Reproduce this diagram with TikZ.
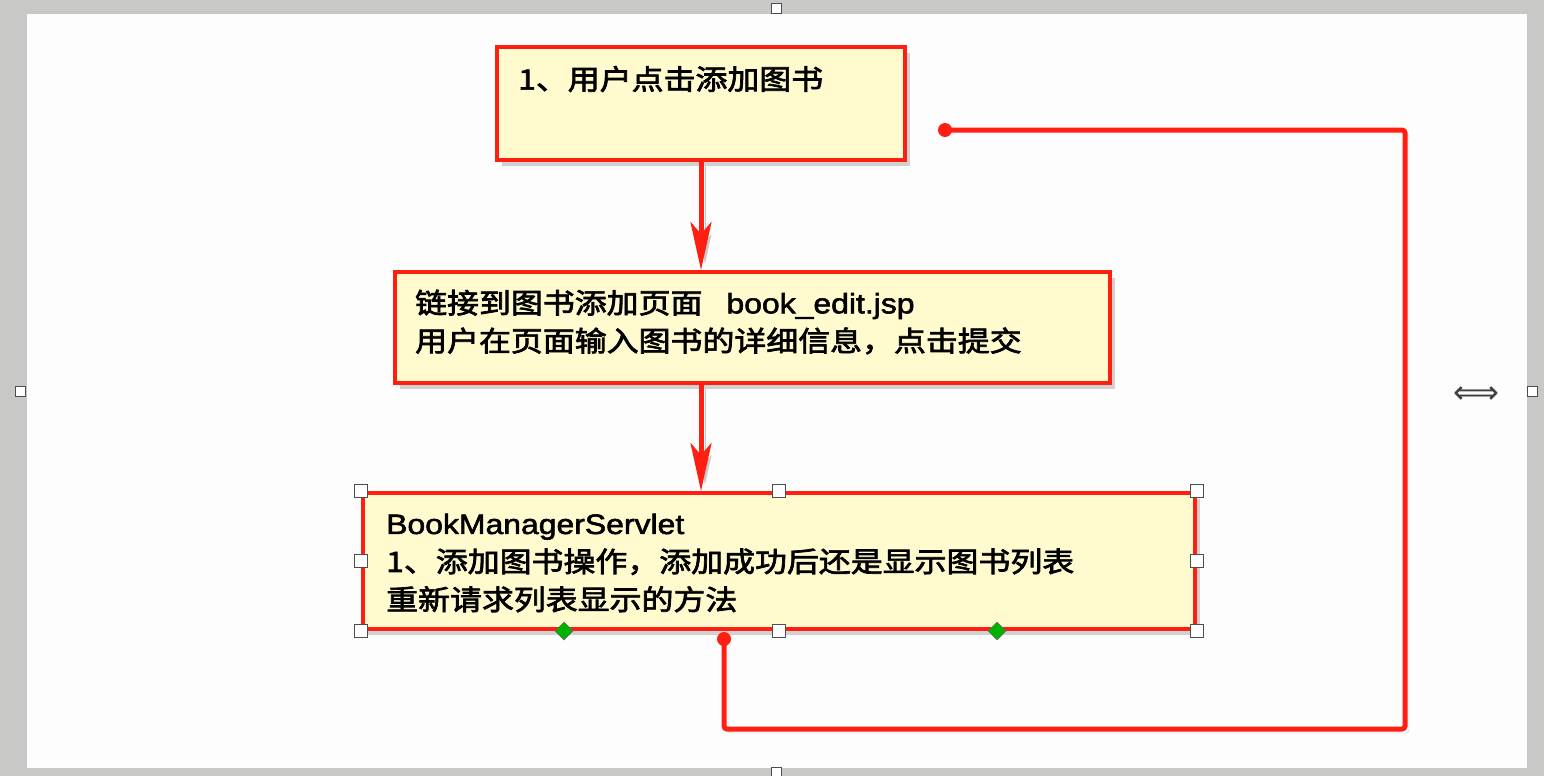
\documentclass[tikz,border=0pt]{standalone}
\usepackage{fontspec}
\newfontfamily\cjk{Noto Sans CJK SC}[FakeStretch=1.14,FakeBold=2.5]
\newfontfamily\latf{Liberation Sans}[FakeStretch=1.14,FakeBold=2]
\newfontfamily\symf{DejaVu Sans}
\usetikzlibrary{arrows.meta,shadows,shapes.geometric}
\definecolor{rouge}{RGB}{255,30,18}
\definecolor{jaune}{RGB}{255,251,207}
\definecolor{fond}{RGB}{200,201,199}
\definecolor{toile}{RGB}{252,253,252}

\begin{document}
\begin{tikzpicture}[x=1pt,y=-1pt]
\tikzstyle{etape}=[rectangle,draw=rouge,line width=4pt,fill=jaune,inner sep=0pt,
  drop shadow={shadow xshift=5pt,shadow yshift=-6pt,opacity=0.35}]
\tikzstyle{texte}=[inner sep=0pt,align=left,anchor=west,font=\cjk\fontsize{28}{38}\selectfont]
\tikzstyle{poignee}=[rectangle,draw=black!70,fill=white,line width=0.8pt,minimum size=13pt,inner sep=0pt]
\tikzstyle{losange}=[diamond,draw=black!60,fill=green!70!black,line width=0.5pt,minimum size=18pt,inner sep=0pt]
\tikzstyle{point}=[circle,fill=rouge,minimum size=14pt,inner sep=0pt]
\tikzstyle{ombre}=[preaction={draw=black!22,transform canvas={shift={(4pt,-4pt)}}}]

\useasboundingbox (0,0) rectangle (1544,776);
\fill[fond] (0,0) rectangle (1544,776);
\node[rectangle,fill=toile,minimum width=1500pt,minimum height=754pt,inner sep=0pt] (toile) at (777,391) {};

\node[etape,minimum width=408pt,minimum height=113pt] (clic) at (701,103.5) {};
\node[etape,minimum width=715pt,minimum height=111pt] (page) at (752.5,327.5) {};
\node[etape,minimum width=832pt,minimum height=136pt] (servlet) at (779,561) {};

\node[texte] (tclic) at ([shift={(23,34)}]clic.north west) {1、用户点击添加图书};
\node[texte] (tpage) at ([shift={(22,52)}]page.north west)
  {链接到图书添加页面\hspace{24pt}{\latf book\_edit.jsp}\\用户在页面输入图书的详细信息，点击提交};
\node[texte] (tservlet) at ([shift={(25,72)}]servlet.north west)
  {{\latf BookManagerServlet}\\1、添加图书操作，添加成功后还是显示图书列表\\重新请求列表显示的方法};

\tikzstyle{suite}=[ombre,line width=5pt,draw=rouge,-{Stealth[length=48pt,width=21pt,inset=12pt]}]
\tikzstyle{retour}=[ombre,line width=5pt,draw=rouge,rounded corners=3pt]
\draw[suite] (clic.south) -- (clic.south |- page.north);
\coordinate (bas) at (clic.south |- page.south);
\draw[suite] (bas) -- (bas |- servlet.north);

\node[point] (depart) at ([xshift=-55pt,yshift=-8pt]servlet.south) {};
\coordinate (coin) at (1405,729);
\node[point] (arrivee) at (945,130) {};
\draw[retour] (depart.center) |- (coin) |- (arrivee.center);

\foreach \a [count=\i] in {north west,north,north east,west,east,south west,south,south east}
  \node[poignee] (p\i) at (servlet.\a) {};
\node[losange] (l1) at ([xshift=203pt]servlet.south west) {};
\node[losange] (l2) at ([xshift=-200pt]servlet.south east) {};

\node[poignee,minimum size=10pt] (c1) at (776,8) {};
\node[poignee,minimum size=10pt] (c2) at (20,391) {};
\node[poignee,minimum size=10pt] (c3) at (1532,391) {};
\node[poignee,minimum size=10pt] (c4) at (776,772) {};
\node[font=\symf\fontsize{32}{32}\selectfont,text=black!75] (curseur) at (1476,395) {⟺};

\end{tikzpicture}
\end{document}
